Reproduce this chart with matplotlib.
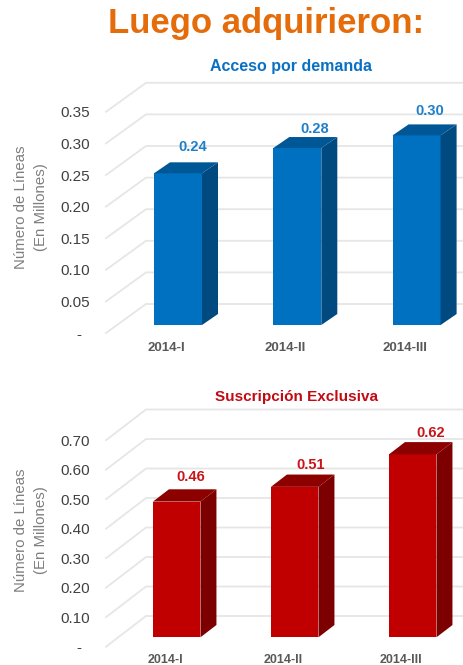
import matplotlib
matplotlib.use("Agg")
import matplotlib.pyplot as plt
import numpy as np

plt.rcParams["font.family"] = ["Liberation Sans", "DejaVu Sans"]

W, H = 464, 665

quarters = ["2014-I", "2014-II", "2014-III"]
acceso = [0.24, 0.28, 0.30]
suscripcion = [0.46, 0.51, 0.62]
acceso_ticks = [0.00, 0.05, 0.10, 0.15, 0.20, 0.25, 0.30, 0.35]
suscripcion_ticks = [0.00, 0.10, 0.20, 0.30, 0.40, 0.50, 0.60, 0.70]
acceso_labels = ["-  ", "0.05", "0.10", "0.15", "0.20", "0.25", "0.30", "0.35"]
suscripcion_labels = ["-  ", "0.10", "0.20", "0.30", "0.40", "0.50", "0.60", "0.70"]


def draw_chart(fig, values, ticks, labels, title, colors, geo):
    # geo is all in pixels of the final image
    zero_y, unit, c0, spacing = geo["zero_y"], geo["unit"], geo["c0"], geo["spacing"]
    left, right = 106, W
    top_y = zero_y - unit * ticks[-1] - 32
    ax = fig.add_axes([left / W, 1 - zero_y / H, (right - left) / W, (zero_y - top_y) / H])
    ax.set_xlim((left - c0) / spacing, (right - c0) / spacing)
    ax.set_ylim(0, (zero_y - top_y) / unit)

    # pixel offsets turned into data units
    px = lambda d: d / spacing
    py = lambda d: d / unit
    wall_x, wall_y = px(40), py(geo["depth_y"])
    xmin = ax.get_xlim()[0]
    xmax = ax.get_xlim()[1]

    for t in ticks:
        ax.plot([xmin, xmin + wall_x, xmax], [t, t + wall_y, t + wall_y],
                color="#e6e6e6", lw=1.3, zorder=1, clip_on=False)

    x = np.arange(len(values))
    bar_x = x + px(geo["bar_dx"])
    base = py(geo["bar_dy"])
    half = px(geo["bar_w"]) / 2
    side_x, side_y = px(16), py(geo["side_dy"])
    ax.bar(bar_x, values, bottom=base, width=half * 2, color=colors["front"], zorder=3)
    for bx, v, (nx, ny), in zip(bar_x, values, geo["nudge"]):
        top = base + v
        ax.fill([bx + half, bx + half + side_x, bx + half + side_x, bx + half],
                [base, base + side_y, top + side_y, top],
                color=colors["side"], lw=0, zorder=3)
        ax.fill([bx - half, bx - half + side_x, bx + half + side_x, bx + half],
                [top, top + side_y, top + side_y, top],
                color=colors["top"], lw=0, zorder=3)
        ax.annotate(f"{v:.2f}", (bx, top), xytext=(nx * 0.72, ny * 0.72),
                    textcoords="offset points", ha="center", va="center",
                    color=colors["label"], fontsize=10.5, fontweight="bold", zorder=4)

    ax.set_yticks(ticks, labels)
    ax.set_xticks(x, quarters)
    ax.tick_params(axis="y", length=0, pad=11.5, labelsize=11, labelcolor="#404040")
    ax.tick_params(axis="x", length=0, pad=geo["xpad"], labelsize=geo["xsize"], labelcolor="#595959")
    for lab in ax.get_xticklabels():
        lab.set_fontweight("bold")
    for s in ax.spines.values():
        s.set_visible(False)
    ax.patch.set_alpha(0)

    fig.text(geo["title_x"] / W, 1 - geo["title_y"] / H, title, ha="center", va="center",
             color=colors["title"], fontsize=geo["title_size"], fontweight="bold")
    fig.text(21 / W, 1 - geo["ylab_y"] / H, "Número de Líneas", rotation=90,
             ha="center", va="center", color="#7f7f7f", fontsize=10.8)
    fig.text(41 / W, 1 - geo["ylab_y"] / H, "(En Millones)", rotation=90,
             ha="center", va="center", color="#7f7f7f", fontsize=10.8)


fig = plt.figure(figsize=(W / 100, H / 100), dpi=100, facecolor="white")

fig.text(266 / W, 1 - 24 / H, "Luego adquirieron:", ha="center", va="center",
         color="#e46c0a", fontsize=25, fontweight="bold")

draw_chart(
    fig, acceso, acceso_ticks, acceso_labels, "Acceso por demanda",
    {"front": "#0070c0", "side": "#004a80", "top": "#005796",
     "label": "#1f7fc8", "title": "#0a70c4"},
    {"zero_y": 333, "unit": 632, "c0": 166, "spacing": 119.3, "depth_y": 29,
     "bar_dx": 12, "bar_dy": 8, "bar_w": 48, "side_dy": 11, "xpad": 6.5, "xsize": 9.5,
     "nudge": [(15, 26), (17, 19), (13, 24)],
     "title_x": 291.5, "title_y": 67, "title_size": 11.5, "ylab_y": 207},
)

draw_chart(
    fig, suscripcion, suscripcion_ticks, suscripcion_labels, "Suscripción Exclusiva",
    {"front": "#c00000", "side": "#7c0000", "top": "#8c0000",
     "label": "#c8151b", "title": "#c00a14"},
    {"zero_y": 646.7, "unit": 295, "c0": 165, "spacing": 118, "depth_y": 30.7,
     "bar_dx": 11.7, "bar_dy": 9.4, "bar_w": 47.5, "side_dy": 12.3, "xpad": 5, "xsize": 9,
     "nudge": [(14.5, 25), (15.5, 22), (18, 21)],
     "title_x": 296.7, "title_y": 397, "title_size": 11, "ylab_y": 530},
)

fig.savefig("out.png", dpi=100)
